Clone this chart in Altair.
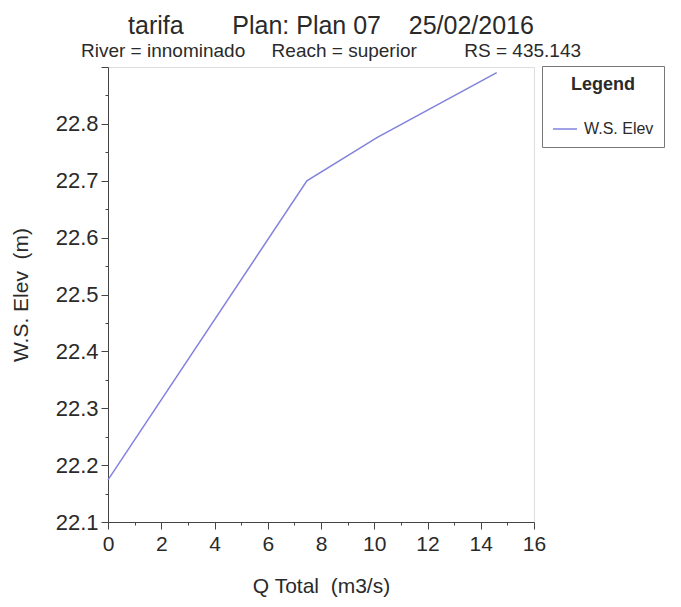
import altair as alt
import pandas as pd

# data
q_total = [0.0, 7.47, 10.1, 14.6]
ws_elev = [22.174, 22.700, 22.776, 22.890]
series_name = "W.S. Elev"

x_ticks = list(range(0, 17))
y_ticks = [round(22.10 + 0.05 * i, 2) for i in range(17)]

df = pd.DataFrame({"q": q_total, "ws": ws_elev, "series": [series_name] * len(q_total)})

FONT = "Liberation Sans"
TXT = "#2a2a2a"
NB = "\u00a0"

x_axis = alt.Axis(
    values=x_ticks,
    labelExpr="datum.value % 2 == 0 ? datum.label : ''",
    tickSize={"condition": {"test": "datum.value % 2 != 0", "value": 3}, "value": 7},
    title="Q Total" + NB * 2 + "(m3/s)",
    titleFontSize=21, titleFont=FONT, titleFontWeight="normal", titleColor=TXT,
    titlePadding=21,
    labelFontSize=21, labelFont=FONT, labelColor=TXT, labelPadding=4,
    domainColor="#444", tickColor="#444", grid=False, labelFlush=False,
)

y_axis = alt.Axis(
    values=y_ticks,
    format=".1f",
    labelExpr="(round(datum.value*100) % 10 == 0 && datum.value < 22.85) ? datum.label : ''",
    tickSize={"condition": {"test": "round(datum.value*100) % 10 != 0", "value": 3}, "value": 7},
    title="W.S. Elev" + NB * 2 + "(m)",
    titleFontSize=21, titleFont=FONT, titleFontWeight="normal", titleColor=TXT,
    titlePadding=24,
    labelFontSize=22, labelFont=FONT, labelColor=TXT, labelPadding=3,
    domainColor="#444", tickColor="#444", grid=False, labelFlush=False,
)

chart = (
    alt.Chart(df)
    .mark_line(strokeWidth=1.5)
    .encode(
        x=alt.X("q:Q", scale=alt.Scale(domain=[0, 16], nice=False, zero=False), axis=x_axis),
        y=alt.Y("ws:Q", scale=alt.Scale(domain=[22.1, 22.9], nice=False, zero=False), axis=y_axis),
        color=alt.Color(
            "series:N",
            scale=alt.Scale(domain=[series_name], range=["#8282dc"]),
            legend=alt.Legend(
                title="Legend",
                orient="none", legendX=434, legendY=-1,
                titleFont=FONT, titleFontSize=18, titleFontWeight="bold", titleColor=TXT,
                titleAnchor="middle", titlePadding=22,
                labelFont=FONT, labelFontSize=16, labelColor=TXT, labelOffset=6,
                symbolType="stroke", symbolSize=576, symbolStrokeWidth=1.5,
                strokeColor="#777", fillColor="white", padding=10,
            ),
        ),
    )
    .properties(
        width=426,
        height=455,
        autosize=alt.AutoSizeParams(type="none"),
        padding={"left": 100, "top": 59, "right": 139, "bottom": 77},
        title=alt.Title(
            text="tarifa" + NB * 7 + "Plan: Plan 07" + NB * 4 + "25/02/2016",
            subtitle="River = innominado" + NB * 5 + "Reach = superior" + NB * 9 + "RS = 435.143",
            font=FONT, fontSize=25, fontWeight="normal", color=TXT,
            subtitleFont=FONT, subtitleFontSize=19, subtitleColor=TXT,
            subtitlePadding=3, anchor="middle", frame="group", dx=10, offset=5,
        ),
    )
    .configure_view(stroke=None)
    .configure(background="white")
)

chart.save("out.html", embed_options={"renderer": "svg", "actions": False})
